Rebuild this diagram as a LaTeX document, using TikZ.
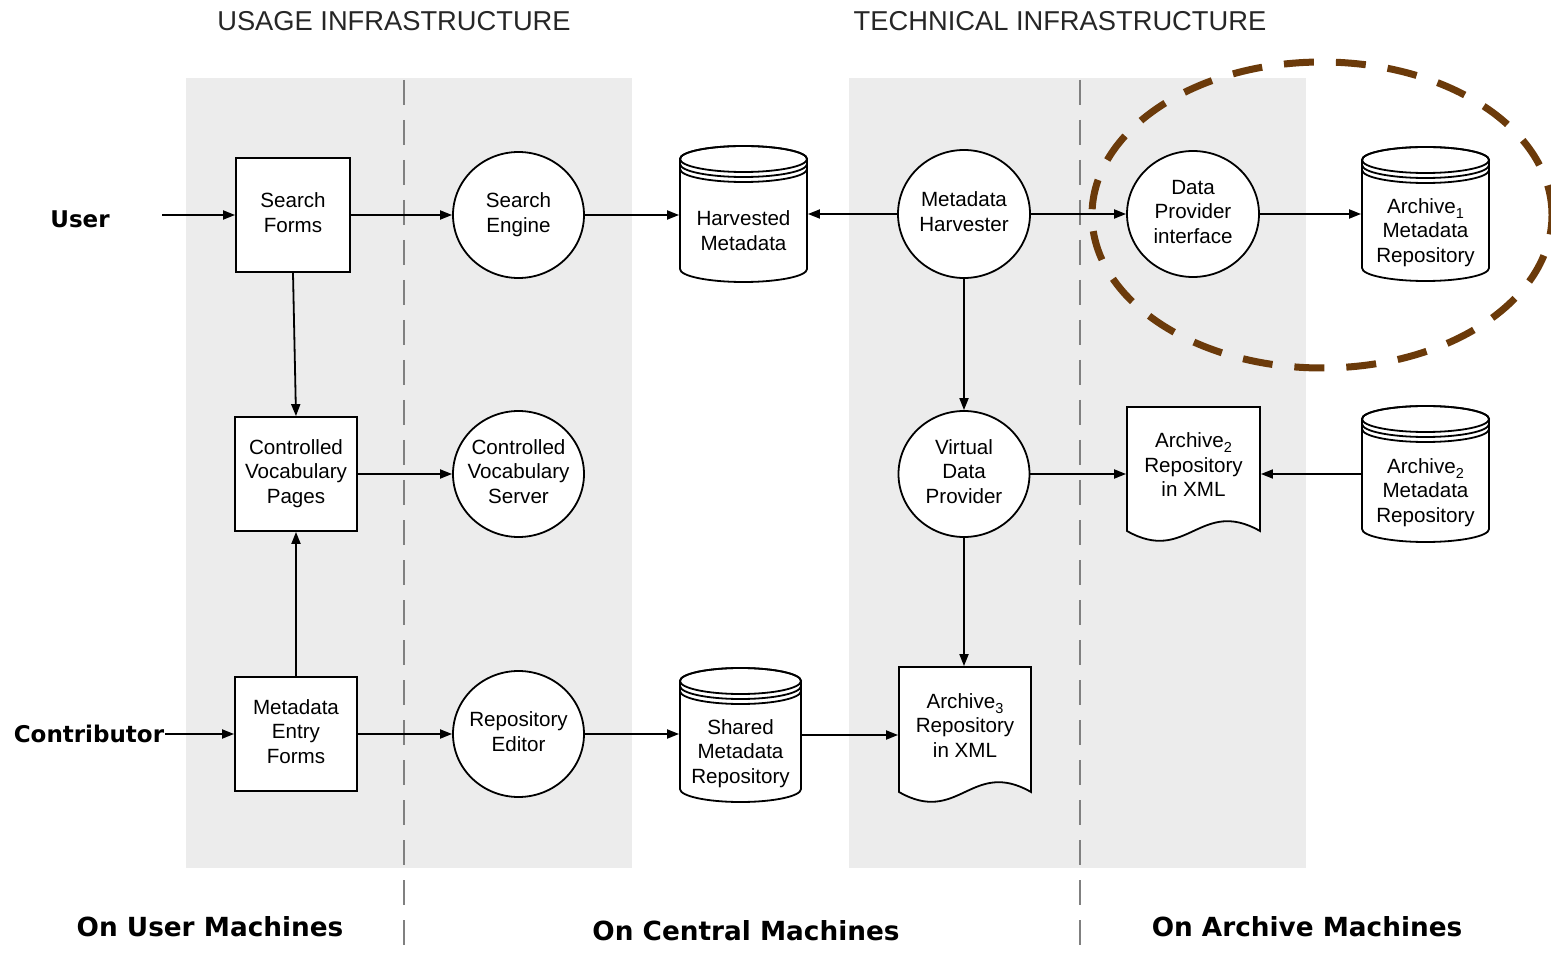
\documentclass[tikz,border=0pt]{standalone}
\usepackage{fontspec}
\setmainfont{Liberation Sans}
\newfontfamily\labfont{DejaVu Sans}
\usetikzlibrary{arrows.meta,shapes.geometric}
\definecolor{panel}{RGB}{236,236,236}
\definecolor{brownish}{RGB}{107,58,10}
\definecolor{sepgray}{RGB}{128,128,128}
\newcommand\nodefont{\fontsize{20.6}{24.5}\selectfont}
\newcommand\subidx[1]{\raisebox{-5pt}{\fontsize{14.5}{14.5}\selectfont #1}}
\newcommand\lines[1]{\begin{tabular}{@{}c@{}}#1\end{tabular}}
\newcommand\clines[1]{\makebox[0pt]{\begin{tabular}{@{}c@{}}#1\end{tabular}}}
\newcommand\shiftlines[2]{\smash{\raisebox{\dimexpr #1-5.2pt\relax}{\begin{tabular}{@{}c@{}}#2\end{tabular}}}}
% drum: name, x1, ytop, x2, ybottom, text
\newcommand\drum[6]{%
  \pgfmathsetmacro\dcx{(#2+#4)/2}%
  \pgfmathsetmacro\drx{(#4-#2)/2}%
  \path[draw,fill=white] (#2,-#3-13) -- (#2,-#5+13)
     arc[start angle=180,end angle=360,x radius=\drx,y radius=13]
     -- (#4,-#3-13)
     arc[start angle=0,end angle=180,x radius=\drx,y radius=13] -- cycle;
  \draw (\dcx,-#3-13) ellipse[x radius=\drx,y radius=13];
  \draw (#2,-#3-18) arc[start angle=180,end angle=360,x radius=\drx,y radius=13];
  \draw (#2,-#3-23) arc[start angle=180,end angle=360,x radius=\drx,y radius=13];
  \node[txt,minimum width=#4-#2,minimum height=#5-#3] (#1) at (\dcx,{-(#3+#5)/2}) {\shiftlines{-19pt}{#6}};
}
% document: name, x1, ytop, x2, ybottom(sides), text
\newcommand\docshape[6]{%
  \pgfmathsetmacro\dcx{(#2+#4)/2}%
  \path[draw,fill=white] (#2,-#5) -- (#2,-#3) -- (#4,-#3) -- (#4,-#5)
     .. controls ({#4-0.45*(#4-#2)},{-#5+34}) and ({#2+0.45*(#4-#2)},{-#5-34}) .. (#2,-#5) -- cycle;
  \node[txt,minimum width=#4-#2,minimum height=#5+10-#3] (#1) at (\dcx,{-(#3+#5+10)/2}) {\shiftlines{6.5pt}{#6}};
}
\tikzset{
  txt/.style={inner sep=0pt,align=center,font=\nodefont},
  box/.style={draw,fill=white,txt},
  circ/.style={ellipse,draw,fill=white,txt,minimum width=131,minimum height=126},
  arr/.style={-{Triangle[length=12pt,width=9pt]}},
  sep/.style={draw=sepgray,line width=2pt,dash pattern=on 25pt off 15pt},
  title/.style={font=\fontsize{27.3}{31}\selectfont,text=black!85,inner sep=0pt},
  bottomlab/.style={font=\labfont\bfseries\fontsize{26.3}{30}\selectfont,inner sep=0pt},
  actor/.style={font=\labfont\bfseries\fontsize{23}{26}\selectfont,inner sep=0pt},
}
\begin{document}
\begin{tikzpicture}[x=1pt,y=1pt,line width=1.8pt]
\useasboundingbox (0,0) rectangle (1551,-957);
% panels
\fill[panel] (186,-78) rectangle (632,-868);
\fill[panel] (849,-78) rectangle (1306,-868);
% separators
\draw[sep] (404,-80) -- (404,-957);
\draw[sep] (1080,-80) -- (1080,-957);
% titles
\node[title] (t1) at (394,-21) {USAGE INFRASTRUCTURE};
\node[title] (t2) at (1060,-21) {TECHNICAL INFRASTRUCTURE};
\node[bottomlab] (b1) at (210,-927) {On User Machines};
\node[bottomlab] (b2) at (746,-931) {On Central Machines};
\node[bottomlab] (b3) at (1307,-927) {On Archive Machines};
% actors
\node[actor] (user) at (80,-219) {User};
\node[actor,anchor=east] (contrib) at (165,-734) {Contributor};
\coordinate (userstart) at (162,-215);
% boxes
\node[box,minimum width=114,minimum height=114] (sf) at (293,-215) {\lines{Search\\Forms}};
\node[box,minimum width=122,minimum height=114] (cvp) at (296,-474) {\lines{Controlled\\Vocabulary\\Pages}};
\node[box,minimum width=122,minimum height=114] (mef) at (296,-734) {\lines{Metadata\\Entry\\Forms}};
% circles
\node[circ] (se) at (518.5,-215) {\clines{Search\\Engine}};
\node[circ] (cvs) at (518.5,-474) {\clines{Controlled\\Vocabulary\\Server}};
\node[circ] (re) at (518.5,-734) {\clines{Repository\\Editor}};
\node[circ,minimum width=132,minimum height=128] (mh) at (964,-214) {\clines{Metadata\\Harvester}};
\node[circ] (vdp) at (964,-474) {\clines{Virtual\\Data\\Provider}};
\node[circ,minimum width=132] (dpi) at (1193,-214) {\clines{Data\\Provider\\interface}};
% drums
\drum{hm}{680}{146}{807}{282}{Harvested\\Metadata}
\drum{smr}{680}{668}{801}{802}{Shared\\Metadata\\Repository}
\drum{aone}{1362}{147}{1489}{281}{Archive\subidx{1}\\Metadata\\Repository}
\drum{atwom}{1362}{406}{1489}{542}{Archive\subidx{2}\\Metadata\\Repository}
% documents
\docshape{atwox}{1127}{407}{1260}{531}{Archive\subidx{2}\\Repository\\in XML}
\docshape{athreex}{899}{667}{1031}{792}{Archive\subidx{3}\\Repository\\in XML}
% connectors
\draw[arr] (userstart) -- (sf.west);
\draw[arr] (sf.east) -- (se.west);
\draw[arr] (se.east) -- (se.east -| hm.west);
\draw[arr] (mh.west) -- (mh.west -| hm.east);
\draw[arr] (mh.east) -- (mh.east -| dpi.west);
\draw[arr] (dpi.east) -- (dpi.east -| aone.west);
\draw[arr] (sf.south) -- (cvp.north);
\draw[arr] (cvp.east) -- (cvp.east -| cvs.west);
\draw[arr] (mef.north) -- (cvp.south);
\draw[arr] (contrib.east) -- (contrib.east -| mef.west);
\draw[arr] (mef.east) -- (mef.east -| re.west);
\draw[arr] (re.east) -- (re.east -| smr.west);
\draw[arr] (smr.east) -- (smr.east -| athreex.west);
\draw[arr] (mh.south) -- (vdp.north);
\draw[arr] (vdp.south) -- (vdp.south |- athreex.north);
\draw[arr] (vdp.east) -- (vdp.east -| atwox.west);
\draw[arr] (atwom.west) -- (atwom.west -| atwox.east);
% highlight
\draw[brownish,line width=7pt,dash pattern=on 30pt off 22pt] (1322,-215) ellipse[x radius=230,y radius=153];
\end{tikzpicture}
\end{document}
